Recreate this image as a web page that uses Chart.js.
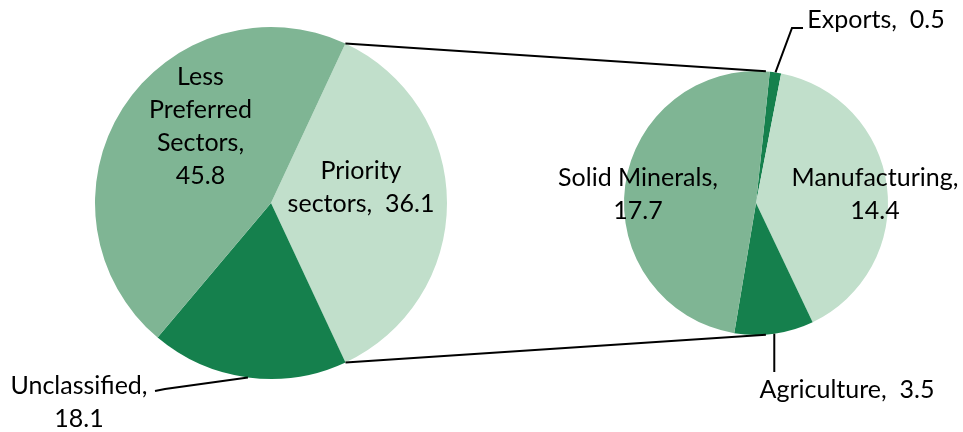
<!DOCTYPE html>
<html>
<head>
<meta charset="utf-8">
<title>Pie of pie</title>
<script src="https://cdn.jsdelivr.net/npm/chart.js@4.4.0/dist/chart.umd.min.js"></script>
<style>
  body { margin: 0; background: #fff; }
  #wrap { position: relative; width: 963px; height: 432px; }
  #wrap canvas { position: absolute; left: 0; top: 0; }
</style>
</head>
<body>
<div id="wrap">
  <canvas id="mainPie" width="963" height="432"></canvas>
  <canvas id="subPie" width="963" height="432"></canvas>
</div>
<script>
// main pie
var mainNames = ['Priority sectors', 'Unclassified', 'Less Preferred Sectors'];
var mainValues = [36.1, 18.1, 45.8];
// breakdown of priority sectors
var subNames = ['Exports', 'Manufacturing', 'Agriculture', 'Solid Minerals'];
var subValues = [0.5, 14.4, 3.5, 17.7];

var DARK = '#15804D', MID = '#7FB594', LIGHT = '#C1DFCB';
var FONT = '25px Lato, "Open Sans", sans-serif';
var LINE_H = 33;

function edgePoint(chart, i, deg) {
  var a = chart.getDatasetMeta(0).data[i];
  var ang = deg === undefined ? (a.startAngle + a.endAngle) / 2 : deg;
  return { x: a.x + Math.cos(ang) * a.outerRadius, y: a.y + Math.sin(ang) * a.outerRadius };
}

var sliceLabels = {
  id: 'sliceLabels',
  afterDatasetsDraw: function(chart, args, opts) {
    var ctx = chart.ctx;
    var arc = chart.getDatasetMeta(0).data[0];
    var names = chart.data.labels, vals = chart.data.datasets[0].data;
    ctx.save();
    ctx.font = FONT;
    ctx.fillStyle = '#000';
    ctx.textAlign = 'center';
    ctx.textBaseline = 'alphabetic';
    ctx.strokeStyle = '#000';
    ctx.lineWidth = 2;
    opts.items.forEach(function(it, i) {
      var lines = it.wrap.slice();
      var v = vals[i].toFixed(1);
      if (it.inline) lines[lines.length - 1] += ',  ' + v;
      else { lines[lines.length - 1] += ','; lines.push(v); }
      lines.forEach(function(t, k) {
        ctx.fillText(t, arc.x + it.dx, arc.y + it.dy + k * LINE_H);
      });
      if (it.leader) {
        var p = edgePoint(chart, i);
        ctx.beginPath();
        ctx.moveTo(p.x, p.y);
        it.leader.forEach(function(q) {
          ctx.lineTo(q[0] === null ? p.x : arc.x + q[0], arc.y + q[1]);
        });
        ctx.stroke();
      }
    });
    ctx.restore();
  }
};

var mainChart = new Chart(document.getElementById('mainPie'), {
  type: 'pie',
  data: {
    labels: mainNames,
    datasets: [{ data: mainValues, backgroundColor: [LIGHT, DARK, MID], borderWidth: 0 }]
  },
  options: {
    responsive: false,
    animation: false,
    events: [],
    rotation: 25,
    layout: { padding: { left: 95, right: 516, top: 27, bottom: 53 } },
    plugins: {
      legend: { display: false },
      tooltip: { enabled: false },
      sliceLabels: {
        items: [
          { wrap: ['Priority', 'sectors'], inline: true, dx: 90, dy: -24 },
          { wrap: ['Unclassified'], inline: false, dx: -192, dy: 191, leader: [[-106, 186], [-116, 188]] },
          { wrap: ['Less', 'Preferred', 'Sectors'], inline: false, dx: -70.5, dy: -118 }
        ]
      }
    }
  },
  plugins: [sliceLabels]
});

var connectors = {
  id: 'connectors',
  afterDraw: function(chart) {
    var ctx = chart.ctx;
    var pa = mainChart.getDatasetMeta(0).data[0];
    var off = 4.3 * Math.PI / 180;
    var top1 = edgePoint(mainChart, 0, pa.startAngle);
    var bot1 = edgePoint(mainChart, 0, pa.endAngle);
    var top2 = edgePoint(chart, 0, -Math.PI / 2 + off);
    var bot2 = edgePoint(chart, 0, Math.PI / 2 - off);
    ctx.save();
    ctx.strokeStyle = '#000';
    ctx.lineWidth = 2;
    ctx.beginPath();
    ctx.moveTo(top1.x, top1.y); ctx.lineTo(top2.x, top2.y);
    ctx.moveTo(bot1.x, bot1.y); ctx.lineTo(bot2.x, bot2.y);
    ctx.stroke();
    ctx.restore();
  }
};

var subChart = new Chart(document.getElementById('subPie'), {
  type: 'pie',
  data: {
    labels: subNames,
    datasets: [{ data: subValues, backgroundColor: [DARK, LIGHT, DARK, MID], borderWidth: 0 }]
  },
  options: {
    responsive: false,
    animation: false,
    events: [],
    rotation: 6,
    layout: { padding: { left: 624, right: 75, top: 71, bottom: 97 } },
    plugins: {
      legend: { display: false },
      tooltip: { enabled: false },
      sliceLabels: {
        items: [
          { wrap: ['Exports'], inline: true, dx: 120, dy: -175, leader: [[36, -175], [47, -175]] },
          { wrap: ['Manufacturing'], inline: false, dx: 119, dy: -17 },
          { wrap: ['Agriculture'], inline: true, dx: 91, dy: 195, leader: [[null, 169]] },
          { wrap: ['Solid Minerals'], inline: false, dx: -118, dy: -17 }
        ]
      }
    }
  },
  plugins: [sliceLabels, connectors]
});
</script>
</body>
</html>
